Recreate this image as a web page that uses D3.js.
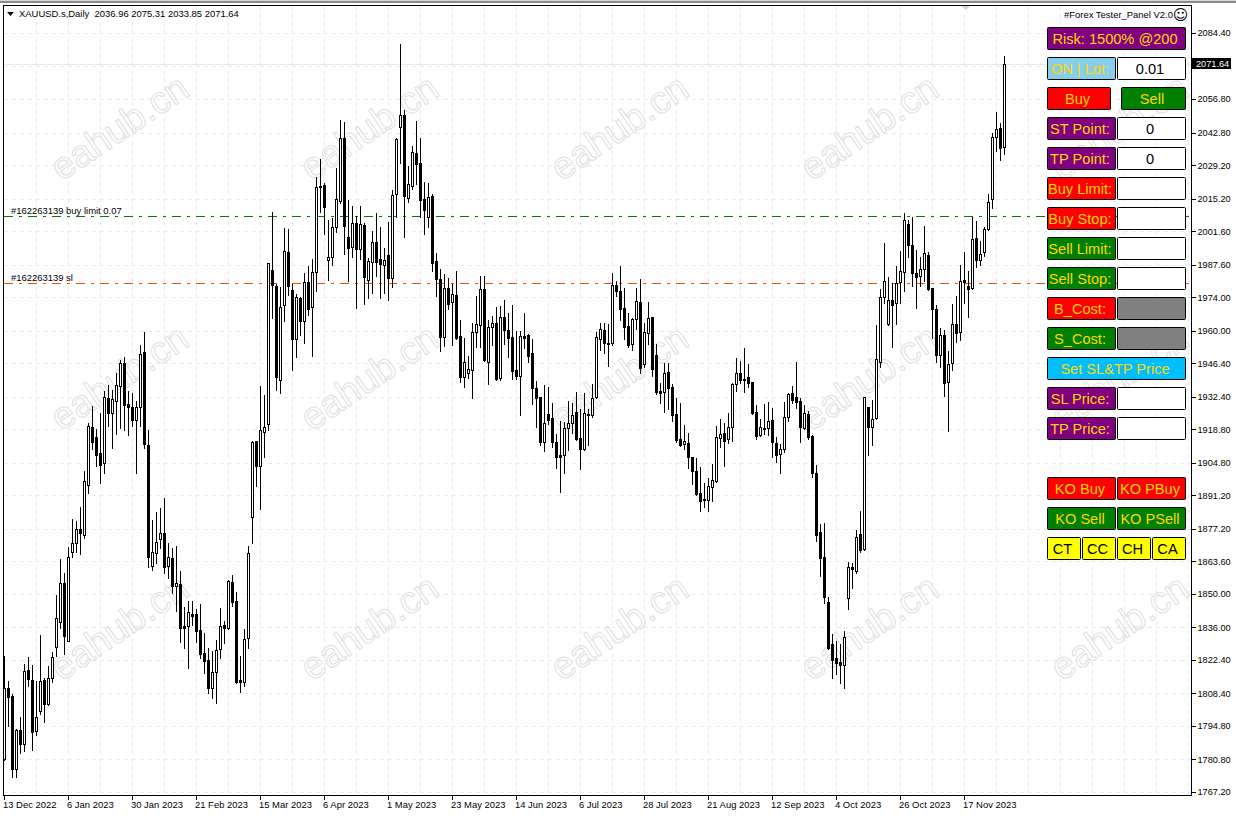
<!DOCTYPE html>
<html><head><meta charset="utf-8">
<script src="https://cdn.jsdelivr.net/npm/d3@7/dist/d3.min.js"></script>
<style>html,body{margin:0;padding:0;background:#fff;overflow:hidden}svg{display:block}text{font-family:"Liberation Sans",Arial,sans-serif}</style>
</head><body><svg id="c" width="1236" height="816"></svg>
<script>
const opens=[1781.0,1810.7,1807.3,1776.8,1793.1,1787.3,1818.2,1814.0,1792.7,1801.1,
1814.0,1804.0,1814.8,1827.8,1838.2,1854.5,1830.3,1867.5,1871.3,1877.1,
1874.6,1895.5,1919.7,1915.6,1908.9,1904.7,1931.9,1925.6,1930.6,1936.9,
1946.5,1929.4,1928.1,1922.7,1928.1,1951.1,1912.2,1861.7,1867.1,1872.9,
1875.4,1861.7,1865.0,1853.3,1854.1,1836.6,1836.6,1841.6,1841.6,1834.9,
1825.3,1822.4,1810.7,1817.3,1826.9,1837.0,1835.7,1854.9,1847.0,1814.0,
1813.2,1831.6,1882.1,1913.9,1903.4,1917.7,1921.0,1985.4,1978.7,1939.4,
1970.7,1992.9,1977.0,1956.5,1973.6,1964.0,1980.3,1969.9,1984.5,2020.5,
2020.9,1989.5,1990.8,2003.3,2014.2,2040.5,1999.2,1995.0,2005.0,1994.1,
2004.2,1981.2,1988.7,1997.1,1989.9,1987.4,1991.6,1982.0,2017.1,2045.1,
2050.1,2015.4,2020.5,2034.2,2030.1,2015.0,2007.5,2016.3,1989.1,1981.6,
1957.3,1977.8,1972.0,1974.9,1957.8,1940.6,1942.3,1943.6,1959.4,1962.4,
1977.4,1946.9,1961.5,1963.2,1940.2,1965.7,1960.3,1957.3,1943.6,1941.1,
1957.8,1958.2,1950.7,1936.0,1932.3,1913.5,1925.2,1923.5,1913.5,1908.0,
1908.0,1919.3,1921.4,1926.0,1915.1,1910.5,1925.2,1924.8,1932.3,1956.5,
1960.3,1954.9,1954.9,1979.1,1976.6,1969.5,1961.9,1954.4,1964.9,1972.0,
1946.0,1959.0,1965.7,1949.8,1934.8,1934.4,1942.7,1936.5,1925.2,1914.7,
1912.6,1913.0,1907.2,1901.4,1892.2,1889.7,1889.2,1894.7,1897.2,1915.1,
1917.2,1914.7,1919.7,1937.7,1942.3,1939.8,1940.6,1938.5,1926.0,1916.4,
1919.3,1919.3,1922.7,1913.0,1908.5,1910.5,1923.9,1934.0,1932.3,1930.6,
1919.3,1925.2,1916.0,1900.5,1875.8,1865.4,1846.6,1829.1,1823.2,1821.5,
1820.3,1848.3,1861.2,1859.6,1875.0,1868.7,1928.1,1919.7,1923.5,1946.9,
1974.1,1962.8,1972.8,1971.6,1980.3,1984.5,2004.6,1995.8,1984.1,1982.8,
1985.8,1991.6,1977.8,1969.1,1949.8,1958.2,1938.5,1946.5,1962.8,1959.4,
1981.2,1978.7,1977.8,1998.7,1989.5,1992.9,2002.5,2015.0,2040.9,2044.7,2036.96];
const highs=[1824.5,1814.0,1808.6,1793.9,1799.0,1821.1,1824.0,1820.7,1814.0,1833.2,
1815.3,1820.3,1826.1,1849.9,1865.0,1859.1,1870.0,1881.7,1880.9,1886.7,
1901.8,1921.8,1928.9,1919.3,1926.0,1935.2,1937.7,1935.6,1942.7,1948.2,
1949.4,1935.2,1934.4,1931.0,1954.4,1959.9,1918.9,1881.3,1884.6,1886.3,
1890.5,1871.7,1869.6,1870.4,1860.0,1844.9,1847.4,1847.4,1844.1,1846.2,
1834.1,1827.8,1826.5,1831.1,1844.5,1839.1,1856.2,1858.3,1851.2,1824.5,
1835.7,1870.4,1914.3,1914.3,1937.3,1933.5,1988.7,2010.0,1979.9,1978.7,
2003.3,2002.9,1979.9,1975.7,1974.5,1984.5,1987.4,1990.4,2024.6,2032.2,
2022.1,2006.7,2007.5,2028.4,2048.5,2047.6,2015.0,2012.5,2008.3,2012.5,
2005.4,1990.8,2002.1,2009.6,2003.7,1995.0,2005.8,2019.2,2040.9,2080.2,
2052.6,2029.2,2037.6,2048.0,2040.9,2022.5,2022.1,2017.5,1992.9,1986.2,
1984.1,1982.4,1979.9,1985.4,1964.9,1957.3,1949.8,1963.6,1974.9,1983.2,
1983.2,1964.9,1966.5,1970.3,1970.7,1973.2,1967.8,1971.1,1960.3,1960.3,
1967.8,1959.0,1956.9,1939.4,1932.7,1937.7,1936.9,1930.2,1917.2,1922.7,
1922.3,1931.0,1930.2,1934.8,1927.7,1934.4,1927.7,1938.1,1959.9,1963.6,
1963.6,1963.2,1984.5,1981.2,1987.4,1978.3,1967.8,1965.7,1978.3,1982.0,
1963.6,1972.4,1966.1,1954.9,1938.5,1946.9,1946.9,1938.1,1932.3,1930.2,
1921.0,1917.7,1907.6,1907.2,1903.4,1896.8,1898.8,1904.7,1920.6,1923.5,
1921.8,1926.0,1938.5,1949.0,1947.7,1953.2,1946.5,1939.0,1929.4,1923.5,
1929.8,1930.6,1928.1,1916.0,1913.0,1930.6,1934.4,1937.3,1947.3,1932.3,
1929.4,1926.8,1916.8,1904.3,1879.6,1880.0,1849.1,1833.6,1830.7,1829.5,
1834.9,1863.7,1863.3,1877.1,1885.0,1932.7,1928.5,1931.4,1962.8,1977.8,
1997.1,1982.8,1980.3,1987.4,1993.7,2009.6,2006.7,2007.9,1994.1,1991.2,
2004.2,1993.3,1978.3,1971.1,1961.5,1960.7,1951.9,1971.6,1974.9,1987.9,
1993.3,1985.4,2007.9,2006.3,1997.9,2003.7,2017.5,2043.0,2051.8,2047.2,2075.31];
const lows=[1780.5,1794.8,1773.5,1773.5,1783.5,1784.3,1811.5,1784.7,1791.0,1799.8,
1796.5,1803.6,1813.2,1824.0,1835.7,1824.9,1830.3,1865.4,1867.5,1866.7,
1873.4,1892.2,1910.6,1903.4,1896.3,1900.5,1920.2,1910.9,1916.8,1919.3,
1918.5,1916.4,1920.2,1900.5,1920.2,1910.9,1861.2,1860.0,1862.9,1869.2,
1858.7,1856.6,1850.4,1842.8,1829.9,1827.4,1819.0,1837.0,1829.9,1823.2,
1816.9,1808.6,1806.5,1804.4,1823.2,1829.5,1835.3,1844.9,1812.8,1809.0,
1811.5,1827.4,1871.3,1895.1,1885.5,1907.2,1918.5,1965.3,1935.2,1933.9,
1964.0,1974.9,1943.6,1949.0,1958.2,1954.8,1966.5,1949.4,1976.6,2009.6,
2000.4,1981.2,1987.4,2001.2,2013.4,1992.0,1980.8,1990.8,1969.5,1989.9,
1971.1,1973.6,1975.7,1982.8,1973.6,1975.7,1972.8,1978.3,2007.5,2030.1,
1999.2,2013.8,2019.2,2021.3,2007.5,2000.4,2003.3,1984.9,1974.5,1951.5,
1953.6,1969.1,1954.0,1956.5,1938.5,1936.5,1940.2,1931.9,1953.2,1953.2,
1947.3,1937.7,1954.0,1939.4,1939.4,1954.4,1949.0,1939.8,1939.8,1924.8,
1952.8,1946.9,1929.4,1919.7,1912.2,1909.7,1921.0,1911.4,1902.6,1892.6,
1900.5,1910.1,1917.2,1914.3,1902.2,1910.1,1912.2,1923.9,1931.9,1951.9,
1950.7,1945.2,1954.0,1974.5,1964.4,1956.5,1953.2,1951.9,1960.7,1942.3,
1944.8,1954.4,1941.1,1933.5,1929.8,1926.0,1927.3,1922.3,1913.5,1911.8,
1910.5,1902.6,1895.9,1891.3,1884.6,1886.3,1884.6,1888.8,1896.8,1911.4,
1903.4,1913.0,1913.9,1934.8,1938.1,1934.4,1936.5,1925.2,1914.7,1916.0,
1916.8,1916.4,1907.2,1905.1,1900.5,1909.3,1922.3,1929.8,1927.7,1913.5,
1918.9,1914.7,1898.8,1872.1,1857.5,1846.2,1826.9,1814.8,1816.5,1812.8,
1810.7,1843.7,1852.5,1858.7,1867.5,1868.3,1908.0,1912.2,1923.1,1944.8,
1971.6,1962.4,1953.2,1962.8,1971.6,1976.6,1990.8,1978.7,1969.5,1978.7,
1980.8,1977.0,1956.9,1946.9,1944.8,1932.7,1918.1,1943.6,1955.3,1956.1,
1971.6,1965.7,1977.4,1986.6,1987.4,1991.2,2002.1,2011.3,2035.1,2031.3,2033.85];
const closes=[1810.7,1806.9,1776.8,1793.1,1787.3,1817.8,1814.4,1792.3,1798.5,1813.6,
1804.0,1814.8,1823.6,1839.9,1854.5,1832.4,1865.4,1871.3,1877.1,1875.4,
1897.2,1920.2,1913.5,1908.0,1903.9,1932.3,1925.6,1931.4,1937.3,1946.5,
1928.9,1928.1,1922.7,1928.1,1950.2,1912.6,1865.4,1867.5,1871.7,1875.4,
1861.2,1865.4,1853.3,1854.5,1835.7,1835.7,1842.4,1840.8,1834.5,1824.9,
1821.9,1810.7,1817.3,1826.5,1836.6,1835.7,1855.4,1846.6,1813.2,1813.2,
1831.1,1867.1,1913.5,1903.4,1918.5,1919.7,1988.3,1979.1,1940.6,1969.9,
1993.3,1978.7,1956.5,1974.1,1964.0,1980.3,1969.1,1984.5,2020.0,2020.0,
2011.7,1990.8,2003.3,2015.0,2040.5,2003.7,1994.5,2005.0,1994.1,2004.6,
1982.4,1989.1,1997.1,1988.7,1987.9,1989.5,1982.0,2016.7,2040.1,2050.1,
2016.3,2021.3,2034.7,2029.7,2014.6,2010.4,2015.9,1988.3,1981.6,1957.3,
1977.8,1971.1,1975.3,1956.9,1940.6,1946.9,1944.0,1959.4,1962.8,1977.4,
1947.7,1961.5,1963.2,1939.8,1965.7,1960.3,1956.9,1943.1,1941.1,1957.8,
1956.9,1949.4,1936.0,1931.9,1913.5,1921.4,1922.7,1913.5,1907.2,1907.2,
1919.3,1921.4,1924.8,1914.7,1910.5,1925.6,1924.8,1931.9,1957.3,1960.7,
1954.9,1954.4,1979.1,1976.6,1969.1,1961.5,1954.0,1964.9,1972.4,1944.4,
1959.4,1965.3,1944.0,1934.4,1933.9,1942.3,1936.0,1924.8,1914.3,1912.2,
1913.9,1907.2,1901.4,1891.7,1888.8,1889.2,1895.1,1897.6,1915.6,1916.8,
1913.9,1919.7,1937.7,1942.3,1939.4,1939.4,1938.1,1925.6,1916.0,1919.7,
1918.9,1922.3,1913.5,1908.0,1910.5,1923.9,1933.5,1931.0,1930.2,1919.7,
1925.6,1915.6,1900.5,1874.6,1865.0,1848.7,1827.4,1822.4,1821.1,1820.3,
1832.0,1861.2,1860.4,1873.8,1868.3,1932.3,1919.7,1923.1,1948.2,1974.1,
1980.8,1972.8,1970.7,1979.9,1984.9,2006.3,1995.8,1984.1,1982.4,1985.8,
1992.5,1977.4,1969.1,1949.8,1958.2,1938.1,1946.1,1962.8,1959.0,1980.8,
1980.3,1977.4,1998.3,1989.5,1992.0,2002.5,2013.8,2040.9,2044.3,2036.3,2071.64];
const priceTicks=[2084.4,2070.8,2056.8,2042.8,2029.2,2015.2,2001.6,1987.6,1974,1960,1946.4,1932.4,1918.8,1904.8,1891.2,1877.2,1863.6,1850,1836,1822.4,1808.4,1794.8,1780.8,1767.2];
const dateTicks=["13 Dec 2022","6 Jan 2023","30 Jan 2023","21 Feb 2023","15 Mar 2023","6 Apr 2023","1 May 2023","23 May 2023","14 Jun 2023","6 Jul 2023","28 Jul 2023","21 Aug 2023","12 Sep 2023","4 Oct 2023","26 Oct 2023","17 Nov 2023"];
const lastPrice=2071.64, limitPrice=2007.8, slPrice=1979.8;
const headerText="XAUUSD.s,Daily  2036.96 2075.31 2033.85 2071.64";
const limitLabel="#162263139 buy limit 0.07", slLabel="#162263139 sl";
const panelTitle="#Forex Tester_Panel V2.0", watermark="eahub.cn";

const svg=d3.select("#c");
const x=d3.scaleLinear().domain([0,250]).range([4.5,1004.5]);
const y=d3.scaleLinear().domain([1767.2,2084.4]).range([792.5,33.5]);
const snap=v=>Math.floor(y(v))+.5;
const L=3.5,R=1191.5,T=5.5,B=795.5;
const tickFont=`9.2px "Liberation Sans",Arial,sans-serif`, labelFont=`9.45px "Liberation Sans",Arial,sans-serif`;

// top strip
svg.append("rect").attr("x",0).attr("y",0).attr("width",1236).attr("height",1).attr("fill","#d8d8d8");
svg.append("rect").attr("x",0).attr("y",1).attr("width",1236).attr("height",2).attr("fill","#8a8a8a");

// grid
const g=svg.append("g").attr("shape-rendering","crispEdges");
const gridX=d3.range(8,300,8).filter(i=>x(i)<R);
g.selectAll(".gx").data(gridX).join("line").attr("x1",d=>x(d)).attr("x2",d=>x(d)).attr("y1",T).attr("y2",B)
 .attr("stroke","#ebebeb").attr("stroke-dasharray","4,4");
g.selectAll(".gy").data(priceTicks).join("line").attr("x1",L).attr("x2",R).attr("y1",d=>snap(d)).attr("y2",d=>snap(d))
 .attr("stroke","#ebebeb").attr("stroke-dasharray","4,4");
// bid line
g.append("line").attr("x1",L).attr("x2",R).attr("y1",snap(lastPrice)).attr("y2",snap(lastPrice)).attr("stroke","#e8e8e8");

// watermarks
const wm=svg.append("g");
for(const cx of [119,369,619,869,1119]) for(const cy of [127,377,627]){
  wm.append("text").text(watermark).attr("transform",`translate(${cx},${cy}) rotate(-34)`)
    .attr("text-anchor","middle").attr("dy",".35em").attr("font-size",38)
    .attr("fill","none").attr("stroke","#e0e0e0").attr("stroke-width",1);
}

// order lines
g.append("line").attr("x1",L).attr("x2",R).attr("y1",snap(limitPrice)).attr("y2",snap(limitPrice)).attr("stroke","#008000").attr("stroke-dasharray","9,6,3,6");
g.append("line").attr("x1",L).attr("x2",R).attr("y1",snap(slPrice)).attr("y2",snap(slPrice)).attr("stroke","#ff4500").attr("stroke-dasharray","9,6,3,6");

// candles
const data=opens.map((o,i)=>({i,o,h:highs[i],l:lows[i],c:closes[i]}));
const cg=svg.append("g").attr("shape-rendering","crispEdges");
cg.selectAll(".w").data(data).join("line").attr("x1",d=>x(d.i)).attr("x2",d=>x(d.i)).attr("y1",d=>snap(d.h)).attr("y2",d=>snap(d.l)+.5).attr("stroke","#000");
cg.selectAll(".b").data(data).join("rect").attr("x",d=>x(d.i)-1).attr("width",2)
 .attr("y",d=>snap(Math.max(d.o,d.c))).attr("height",d=>Math.max(1,snap(Math.min(d.o,d.c))-snap(Math.max(d.o,d.c))))
 .attr("fill",d=>d.c>d.o?"#fff":"#000").attr("stroke","#000");

// frame
svg.append("rect").attr("x",L).attr("y",T).attr("width",R-L).attr("height",B-T).attr("fill","none").attr("stroke","#000").attr("shape-rendering","crispEdges");
// shift marker
svg.append("path").attr("d",d3.line()([[962,6],[970,6],[966,10]])+"Z").attr("fill","#d4d4d4");

// axes
const ya=svg.append("g").attr("transform",`translate(${R},0)`).attr("shape-rendering","crispEdges")
  .call(d3.axisRight(y).tickValues(priceTicks).tickFormat(d3.format(".2f")).tickSize(4).tickPadding(2).offset(0));
ya.select(".domain").remove();
ya.selectAll("text").style("font",tickFont).attr("fill","#000");
ya.selectAll("line").attr("stroke","#000");
const xa=svg.append("g").attr("transform",`translate(0,${B})`).attr("shape-rendering","crispEdges")
  .call(d3.axisBottom(x).tickValues(dateTicks.map((_,k)=>k*16)).tickFormat(i=>dateTicks[i/16]).tickSize(4).tickPadding(2).offset(0));
xa.select(".domain").remove();
xa.selectAll("text").style("font",labelFont).attr("fill","#000").attr("text-anchor","start").attr("dx",-1.5);
xa.selectAll("line").attr("stroke","#000");

// price tag
svg.append("rect").attr("x",1192).attr("y",58).attr("width",39).attr("height",11).attr("fill","#000");
svg.append("text").text(d3.format(".2f")(lastPrice)).attr("x",1196).attr("y",y(lastPrice)).attr("dy",".34em").attr("fill","#fff").style("font",tickFont);

// labels
const lab=(s,px,py,a)=>svg.append("text").text(s).attr("x",px).attr("y",py).attr("text-anchor",a||"start").attr("fill","#000").style("font",labelFont).style("white-space","pre");
svg.append("path").attr("d",d3.line()([[7,12],[14,12],[10.5,16]])+"Z").attr("fill","#000");
lab(headerText,19,17);
lab(limitLabel,11,214);
lab(slLabel,11,281);
lab(panelTitle,1173,18,"end");
svg.append("text").text("\u263A").attr("x",1180.5).attr("y",20).attr("text-anchor","middle").style("font",'15px "DejaVu Sans"').attr("fill","#000");

// panel
const GOLD="#ffd700",PUR="#800080",RED="#ff0000",GRN="#008000",SKY="#87ceeb",DSK="#00bfff",YEL="#ffff00",GRY="#808080";
const p=svg.append("g");
function btn(bx,by,w,fill,label,col){
  p.append("rect").attr("x",bx+.5).attr("y",by+.5).attr("width",w-2).attr("height",22).attr("rx",1).attr("fill",fill).attr("stroke","#000");
  if(label) p.append("text").text(label).attr("x",bx+w/2-2).attr("y",by+16.5).attr("text-anchor","middle").attr("font-size",14.6).attr("fill",col);
}
const X1=1047,W=70,X2=1117;
function pair(by,f,l,right,rf){btn(X1,by,W,f,l,GOLD);btn(X2,by,W,rf||"#fff",right||"","#000");}
btn(X1,27,140,PUR,"Risk: 1500% @200",GOLD);
pair(57,SKY,"ON | Lot:","0.01");
btn(1047,87,65,RED,"Buy",GOLD);btn(1121,87,66,GRN,"Sell",GOLD);
pair(117,PUR,"ST Point:","0");
pair(147,PUR,"TP Point:","0");
pair(177,RED,"Buy Limit:");
pair(207,RED,"Buy Stop:");
pair(237,GRN,"Sell Limit:");
pair(267,GRN,"Sell Stop:");
pair(297,RED,"B_Cost:","",GRY);
pair(327,GRN,"S_Cost:","",GRY);
btn(X1,357,140,DSK,"Set SL&TP Price",GOLD);
pair(387,PUR,"SL Price:");
pair(417,PUR,"TP Price:");
btn(X1,477,W,RED,"KO Buy",GOLD);btn(X2,477,W,RED,"KO PBuy",GOLD);
btn(X1,507,W,GRN,"KO Sell",GOLD);btn(X2,507,W,GRN,"KO PSell",GOLD);
btn(1047,537,35,YEL,"CT","#000");btn(1082,537,35,YEL,"CC","#000");btn(1117,537,35,YEL,"CH","#000");btn(1152,537,35,YEL,"CA","#000");
</script></body></html>
